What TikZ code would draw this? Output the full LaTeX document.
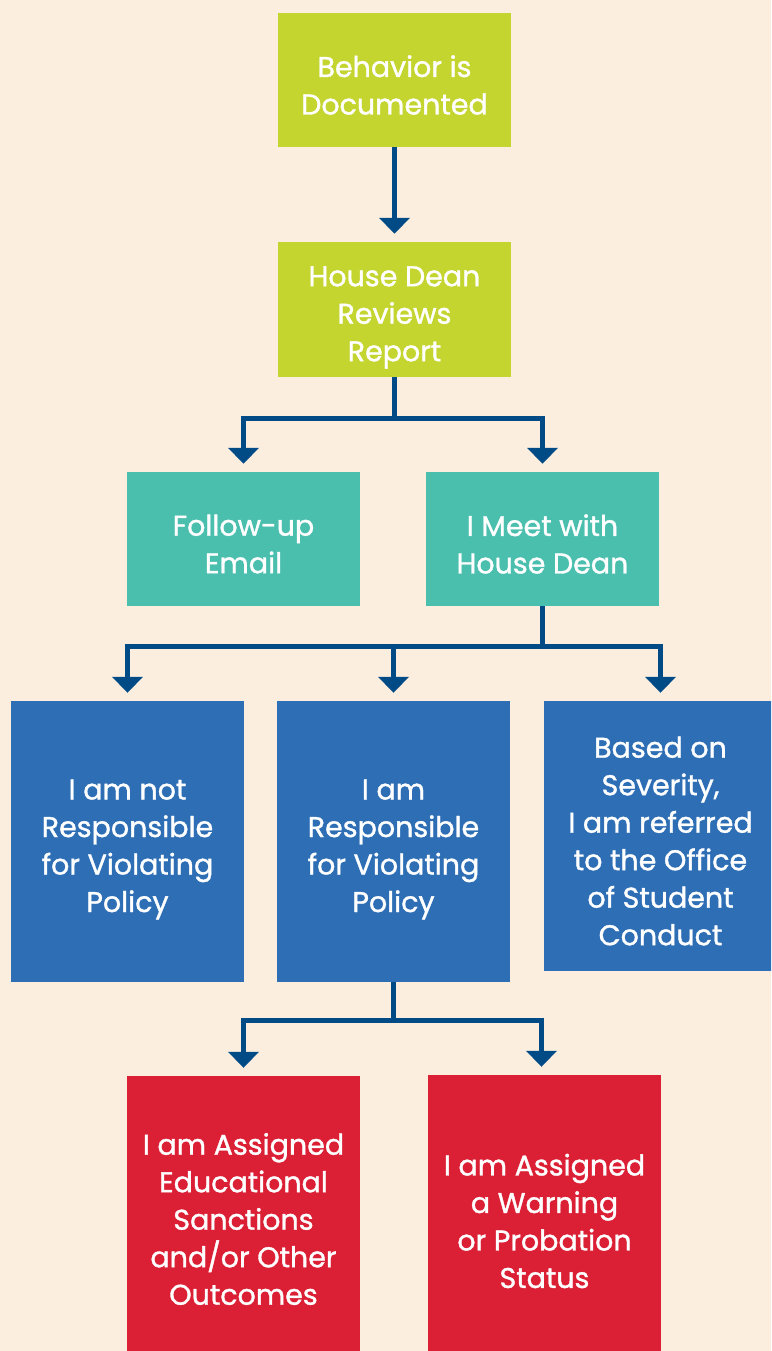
\documentclass[tikz,border=0pt]{standalone}
\usepackage{fontspec}
\setmainfont[FakeBold=1.2]{Poppins}
\usetikzlibrary{arrows.meta}
\definecolor{bg}{HTML}{FBEEDF}
\definecolor{lime}{HTML}{C4D52F}
\definecolor{teal}{HTML}{4ABFAE}
\definecolor{bluebox}{HTML}{2D6EB5}
\definecolor{redbox}{HTML}{DB1F35}
\definecolor{arrowblue}{HTML}{004A86}
\begin{document}
\begin{tikzpicture}[x=1pt,y=-1pt,
  box/.style={minimum width=233pt, inner sep=0pt},
  txt/.style={inner sep=0pt, text=white, align=center, yshift=-5pt,
    font=\fontsize{28.5}{37.5}\selectfont},
  arr/.style={draw=arrowblue, line width=5pt, line join=miter,
    -{Triangle[width=30pt,length=16pt]}, shorten >=8pt}]
\fill[bg] (0,0) rectangle (771,1351);
\clip (0,0) rectangle (771,1351);
\node[box, fill=lime, minimum height=134pt, label={[txt]center:Behavior is\\Documented}] (b1) at (394.5,80) {};
\node[box, fill=lime, minimum height=135pt, label={[txt,yshift=-3pt]center:House Dean\\Reviews\\Report}] (b2) at (394.5,309.5) {};
\node[box, fill=teal, minimum height=134pt, label={[txt]center:Follow-up\\Email}] (b3) at (243.5,539) {};
\node[box, fill=teal, minimum height=134pt, label={[txt]center:I Meet with\\House Dean}] (b4) at (542.5,539) {};
\node[box, fill=bluebox, minimum height=281pt, label={[txt,yshift=-3pt]center:I am not\\Responsible\\for Violating\\Policy}] (b5) at (127.5,841.5) {};
\node[box, fill=bluebox, minimum height=281pt, label={[txt,yshift=-3pt]center:I am\\Responsible\\for Violating\\Policy}] (b6) at (393.5,841.5) {};
\node[box, fill=bluebox, minimum height=270pt, label={[txt]center:Based on\\Severity,\\I am referred\\to the Office\\of Student\\Conduct}] (b7) at (660.5,836) {};
\node[box, fill=redbox, minimum height=290pt, label={[txt,yshift=7pt]center:I am Assigned\\Educational\\Sanctions\\and/or Other\\Outcomes}] (b8) at (243.5,1221) {};
\node[box, fill=redbox, minimum height=292pt, label={[txt,yshift=5pt]center:I am Assigned\\a Warning\\or Probation\\Status}] (b9) at (544.5,1221) {};
\coordinate (j1) at (394.5,418);
\coordinate (j2) at (542.5,646);
\coordinate (j3) at (393.5,1020);
\draw[arr] (b1.south) -- (b2.north);
\draw[arr] (b2.south) -- (j1) -| (b3.north);
\draw[arr] (j1) -| (b4.north);
\draw[arr] (b4.south) -- (j2) -| (b5.north);
\draw[arr] (j2) -| (b6.north);
\draw[arr] (j2) -| (b7.north);
\draw[arr] (b6.south) -- (j3) -| (b8.north);
\draw[arr] (j3) -| ([xshift=-3pt]b9.north);
\end{tikzpicture}
\end{document}
